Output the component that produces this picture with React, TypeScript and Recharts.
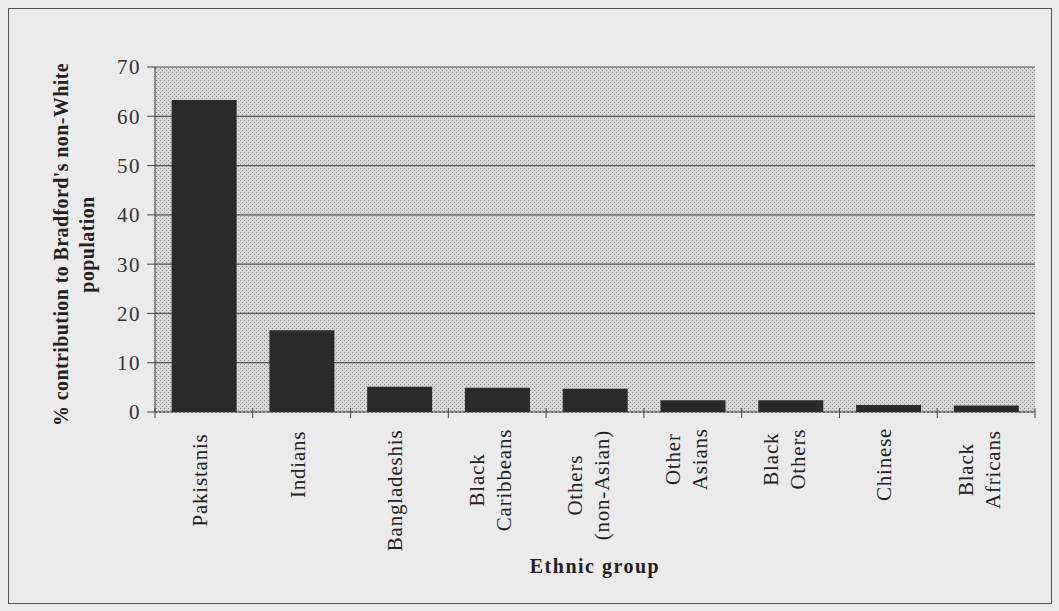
import { Bar, BarChart, CartesianGrid, XAxis, YAxis } from 'recharts'

const GROUPS = [
  'Pakistanis',
  'Indians',
  'Bangladeshis',
  'Black\nCaribbeans',
  'Others\n(non-Asian)',
  'Other\nAsians',
  'Black\nOthers',
  'Chinese',
  'Black\nAfricans',
]
const SHARES = [63.3, 16.6, 5.1, 4.9, 4.7, 2.4, 2.4, 1.4, 1.3]
const Y_TICKS = [0, 10, 20, 30, 40, 50, 60, 70]

const data = GROUPS.map((name, i) => ({ name, value: SHARES[i] }))

const FONT = '"Liberation Serif", "Times New Roman", serif'
const MARGIN = { top: 67, right: 24, bottom: 34, left: 95 }
const Y_WIDTH = 60
const CHART_W = 1059
const BAND = (CHART_W - MARGIN.left - MARGIN.right - Y_WIDTH) / GROUPS.length

// category ticks: Excel puts the small marks between the categories
function GroupTick({ x, y, payload, index }: any) {
  const lines = String(payload.value).split('\n')
  const longest = Math.max(...lines.map((l) => l.length)) * 10.4
  const axisY = y - 8
  const mid = y + 8 + longest / 2
  const offsets = lines.length === 1 ? [3] : [-13, 14]
  return (
    <g>
      <line x1={x - BAND / 2} x2={x - BAND / 2} y1={axisY - 4} y2={axisY + 6} stroke="#444" />
      {index === GROUPS.length - 1 && (
        <line x1={x + BAND / 2} x2={x + BAND / 2} y1={axisY - 4} y2={axisY + 6} stroke="#444" />
      )}
      <g transform={`translate(${x},${mid}) rotate(-90)`}>
        {lines.map((l, i) => (
          <text
            key={i}
            x={0}
            y={offsets[i]}
            textAnchor="middle"
            fontSize={21}
            letterSpacing={0.8}
            fontFamily={FONT}
            fill="#222"
          >
            {l}
          </text>
        ))}
      </g>
    </g>
  )
}

function YLabel({ viewBox }: any) {
  const cy = viewBox.y + viewBox.height / 2 + 5
  return (
    <g transform={`translate(68,${cy}) rotate(-90)`}>
      <text
        textAnchor="middle"
        fontSize={20}
        fontWeight="bold"
        letterSpacing={0.4}
        fontFamily={FONT}
        fill="#222"
      >
        <tspan x={0} y={0}>% contribution to Bradford's non-White</tspan>
        <tspan x={0} y={26}>population</tspan>
      </text>
    </g>
  )
}

export default function App() {
  return (
    <div
      style={{
        position: 'absolute',
        left: 0,
        top: 0,
        width: 1059,
        height: 611,
        background: '#ebebeb',
      }}
    >
      <div
        style={{
          position: 'absolute',
          left: 8,
          top: 8,
          width: 1042,
          height: 594,
          border: '1px solid #555',
        }}
      />
      <BarChart
        width={CHART_W}
        height={611}
        data={data}
        margin={MARGIN}
        barCategoryGap="17%"
        style={{ position: 'absolute', left: 0, top: 0 }}
      >
        <defs>
          <pattern id="dots" width="4" height="4" patternUnits="userSpaceOnUse">
            <rect width="4" height="4" fill="#d6d6d6" />
            <rect x="0" y="0" width="1" height="1" fill="#8f8f8f" />
            <rect x="2" y="2" width="1" height="1" fill="#8f8f8f" />
          </pattern>
        </defs>
        <CartesianGrid
          vertical={false}
          stroke="#555"
          strokeWidth={1.2}
          fill="url(#dots)"
          fillOpacity={1}
        />
        <XAxis
          dataKey="name"
          interval={0}
          tick={<GroupTick />}
          tickLine={false}
          tickSize={6}
          tickMargin={2}
          axisLine={{ stroke: '#444', strokeDasharray: '2 2' }}
          height={165}
          label={{
            value: 'Ethnic group',
            position: 'insideBottom',
            offset: 4,
            fontSize: 20,
            fontWeight: 'bold',
            fontFamily: FONT,
            fill: '#222',
            letterSpacing: 1.5,
          }}
        />
        <YAxis
          domain={[0, 70]}
          ticks={Y_TICKS}
          interval={0}
          width={Y_WIDTH}
          tick={{ fontSize: 21, fontFamily: FONT, fill: '#333', letterSpacing: 1.5 }}
          tickLine={{ stroke: '#444' }}
          axisLine={{ stroke: '#333' }}
          tickSize={8}
          tickMargin={6}
          label={<YLabel />}
        />
        <Bar dataKey="value" fill="#2a2a2a" isAnimationActive={false} />
      </BarChart>
    </div>
  )
}
